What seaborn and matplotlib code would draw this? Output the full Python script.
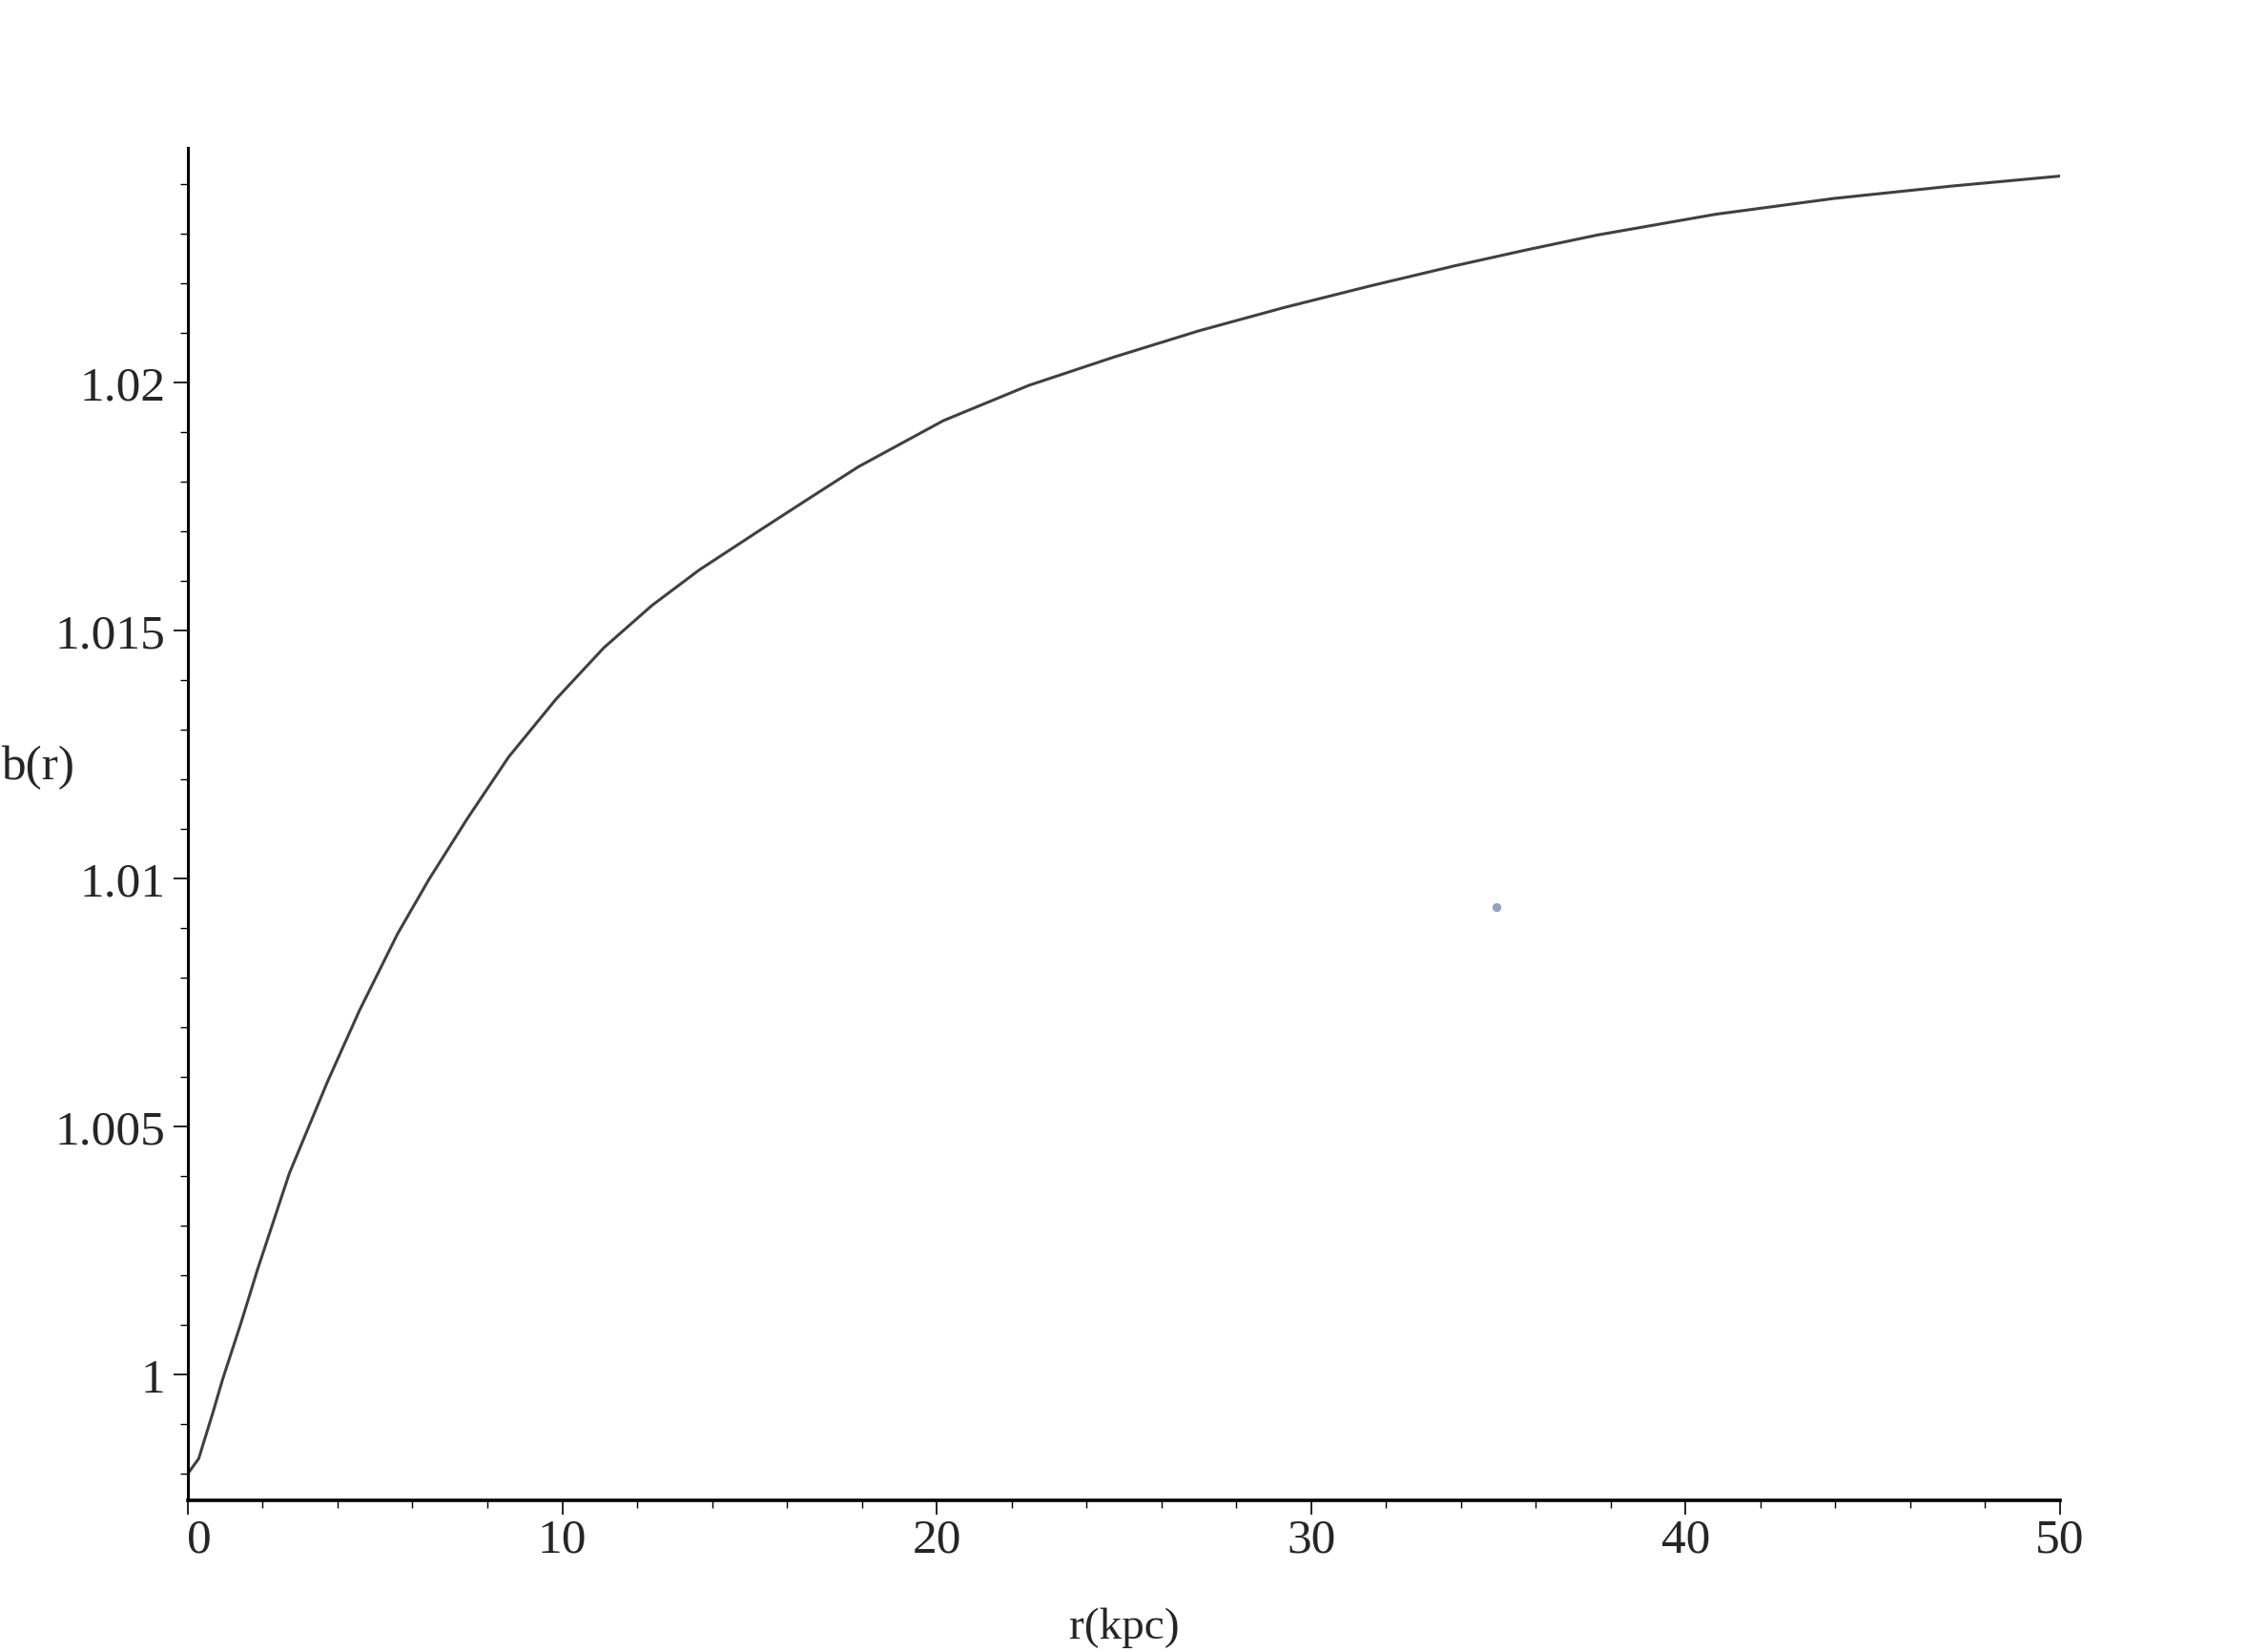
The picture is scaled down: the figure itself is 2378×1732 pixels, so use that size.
import seaborn as sns
import matplotlib.pyplot as plt
import matplotlib.ticker as mticker
import matplotlib.transforms as mtransforms
import pandas as pd


# Stil grafic

sns.set_theme(style="white")
plt.rcParams['font.family'] = ['Liberation Serif', 'DejaVu Serif']


# Valori: b(r) in functie de r (kpc)

r_kpc = [0.0, 0.29, 0.67, 0.93, 1.43, 1.86, 2.71, 3.73, 4.58, 5.60, 6.44,
         7.46, 8.57, 9.84, 11.11, 12.39, 13.66, 15.36, 16.63, 17.91, 20.18,
         22.46, 24.73, 27.00, 29.28, 31.55, 33.83, 35.74, 37.63, 40.80,
         43.97, 47.13, 50.0]
b_r = [0.9980, 0.9983, 0.99923, 0.9999, 1.00106, 1.00211, 1.00405, 1.00590,
       1.00733, 1.00888, 1.00998, 1.01120, 1.01245, 1.01362, 1.01465,
       1.01550, 1.01622, 1.01706, 1.01768, 1.01830, 1.01923, 1.01994,
       1.02051, 1.02104, 1.02151, 1.02194, 1.02235, 1.02267, 1.02297,
       1.02339, 1.02371, 1.02396, 1.02416]

# punctul mic albastru din grafic
dot_r = [34.95]
dot_b = [1.00942]

y_ticks = [1.0, 1.005, 1.01, 1.015, 1.02]
y_labels = ["1", "1.005", "1.01", "1.015", "1.02"]
x_ticks = [0, 10, 20, 30, 40, 50]

df = pd.DataFrame({"r": r_kpc, "b": b_r})


# Figura

fig = plt.figure(figsize=(23.78, 17.33), dpi=100)
ax = fig.add_axes([0.0828, 0.0917, 0.8255, 0.8183])

sns.lineplot(x="r", y="b", data=df, ax=ax, color="#404040",
             linewidth=2.2, estimator=None, sort=False)
ax.scatter(dot_r, dot_b, s=45, color="#6f85a5", alpha=0.75, linewidths=0)

ax.set_xlim(0, 50)
ax.set_ylim(0.99746, 1.02473)

ax.set_xticks(x_ticks)
ax.set_xticklabels([str(v) for v in x_ticks])
ax.xaxis.set_minor_locator(mticker.MultipleLocator(2))
ax.set_yticks(y_ticks)
ax.set_yticklabels(y_labels)
ax.yaxis.set_minor_locator(mticker.MultipleLocator(0.001))

ax.tick_params(axis="both", which="major", direction="out", length=11,
               width=1.2, color="black", labelsize=37, pad=6)
ax.tick_params(axis="x", which="major", pad=2)
ax.tick_params(axis="both", which="minor", direction="out", length=5.5,
               width=1.0, color="black")
ax.tick_params(left=True, bottom=True, which="both")

# eticheta "0" e deplasata putin spre dreapta ca in original
zero_lbl = ax.get_xticklabels()[0]
zero_lbl.set_transform(zero_lbl.get_transform() +
                       mtransforms.ScaledTranslation(0.12, 0, fig.dpi_scale_trans))

for side in ["top", "right"]:
    ax.spines[side].set_visible(False)
ax.spines["left"].set_linewidth(2.2)
ax.spines["bottom"].set_linewidth(2.6)
ax.spines["left"].set_color("black")
ax.spines["bottom"].set_color("black")

ax.set_xlabel("r(kpc)", fontsize=34, labelpad=34)
ax.set_ylabel("")

# eticheta axei y orizontala, in stanga
fig.text(0.0005, 0.5355, "b(r)", fontsize=37, ha="left", va="center")

fig.savefig("out.png", dpi=100, facecolor="white")
